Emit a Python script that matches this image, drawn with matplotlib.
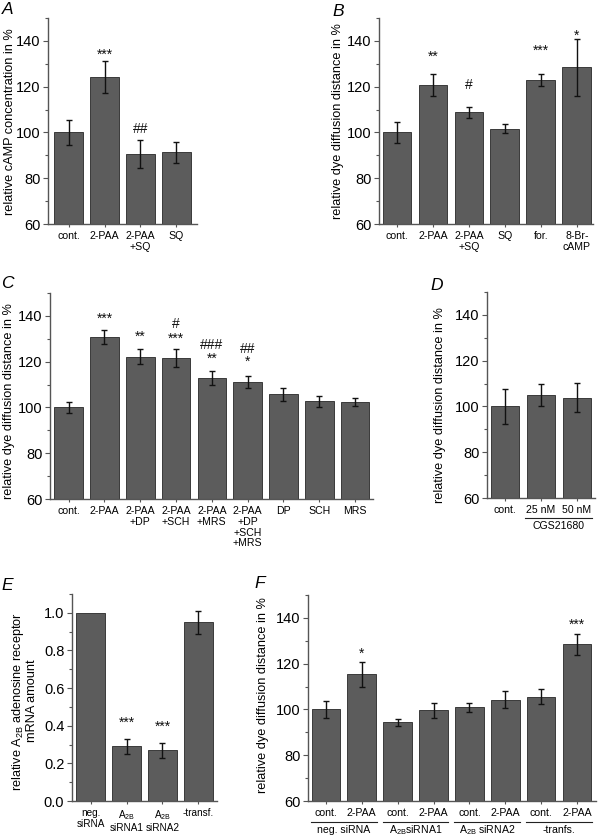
import matplotlib
matplotlib.use('Agg')
import matplotlib.pyplot as plt
import matplotlib.transforms as mtrans
from matplotlib.ticker import MultipleLocator, FormatStrFormatter

plt.rcParams['font.family'] = ['Liberation Sans', 'DejaVu Sans']
plt.rcParams['mathtext.fontset'] = 'custom'
plt.rcParams['mathtext.rm'] = 'Liberation Sans'
plt.rcParams['mathtext.it'] = 'Liberation Sans:italic'

## DATA ##
# A - cAMP
a_labels = ['cont.', '2-PAA', '2-PAA\n+SQ', 'SQ']
a_vals = [100, 124.2, 90.6, 91.3]
a_err = [5.6, 6.8, 6.0, 4.5]
a_ann_bar = [1, 2]
a_ann_txt = ['***', '##']
a_ann_y = [135.6, 101.7]

# B - dye diffusion, cAMP pathway
b_labels = ['cont.', '2-PAA', '2-PAA\n+SQ', 'SQ', 'for.', '8-Br-\ncAMP']
b_vals = [100, 120.8, 108.8, 101.7, 123.1, 128.4]
b_err = [4.5, 4.8, 2.3, 2.1, 2.6, 12.6]
b_ann_bar = [1, 2, 4, 5]
b_ann_txt = ['**', '#', '***', '*']
b_ann_y = [134.7, 121.3, 137.2, 144.0]

# C - adenosine receptor antagonists
c_labels = ['cont.', '2-PAA', '2-PAA\n+DP', '2-PAA\n+SCH', '2-PAA\n+MRS',
            '2-PAA\n+DP\n+SCH\n+MRS', 'DP', 'SCH', 'MRS']
c_vals = [100, 130.8, 122.1, 121.6, 113.0, 111.2, 105.7, 102.6, 102.5]
c_err = [2.3, 3.0, 3.3, 3.8, 3.0, 2.7, 2.8, 2.3, 1.7]
c_ann_bar = [1, 2, 3, 3, 4, 4, 5, 5]
c_ann_txt = ['***', '**', '#', '***', '###', '**', '##', '*']
c_ann_y = [140.6, 132.6, 136.9, 131.8, 127.6, 123.1, 126.0, 121.7]

# D - CGS21680
d_labels = ['cont.', '25 nM', '50 nM']
d_vals = [100, 105.0, 103.9]
d_err = [7.5, 5.0, 6.3]

# E - mRNA
e_labels = ['neg.\nsiRNA', 'A$_{\\mathrm{2B}}$\nsiRNA1', 'A$_{\\mathrm{2B}}$\nsiRNA2', '-transf.']
e_vals = [1.0, 0.29, 0.27, 0.95]
e_err = [0.0, 0.04, 0.04, 0.06]
e_ann_bar = [1, 2]
e_ann_txt = ['***', '***']
e_ann_y = [0.434, 0.415]

# F - siRNA dye diffusion
f_labels = ['cont.', '2-PAA'] * 4
f_groups = ['neg. siRNA', 'A$_{\\mathrm{2B}}$siRNA1', 'A$_{\\mathrm{2B}}$ siRNA2', '-tranfs.']
f_vals = [100, 115.4, 94.4, 99.7, 100.9, 104.3, 105.6, 128.4]
f_err = [3.9, 5.5, 1.6, 3.3, 1.9, 3.6, 3.4, 4.4]
f_ann_bar = [1, 7]
f_ann_txt = ['*', '***']
f_ann_y = [125.9, 138.7]

W, H = 598, 838
fig = plt.figure(figsize=(W / 100, H / 100), dpi=100)

BAR = '#5c5c5c'
EDGE = '#3a3a3a'
AX = '#555555'
XFS = 7.6


def rect(l, t, r, b):
    return [l / W, 1 - b / H, (r - l) / W, (b - t) / H]


def panel(r, labels, vals, err, xlim, ylim=(60, 150), major=20, minor=10, fmt='%d'):
    ax = fig.add_axes(rect(*r))
    x = list(range(len(vals)))
    ax.bar(x, vals, width=0.8, color=BAR, edgecolor=EDGE, linewidth=0.7, zorder=2)
    # only bars that have an error
    xe = [i for i in x if err[i] > 0]
    ax.errorbar(xe, [vals[i] for i in xe], yerr=[err[i] for i in xe], fmt='none',
                ecolor='#111111', elinewidth=1, capsize=2, capthick=1, zorder=3)
    ax.set_xlim(*xlim)
    ax.set_ylim(*ylim)
    ax.set_xticks(x)
    ax.set_xticklabels(labels, fontsize=XFS, linespacing=1.1)
    ax.yaxis.set_major_locator(MultipleLocator(major))
    ax.yaxis.set_minor_locator(MultipleLocator(minor))
    ax.yaxis.set_major_formatter(FormatStrFormatter(fmt))
    ax.tick_params(axis='y', labelsize=10.5, length=3.5, width=0.8, color=AX, pad=2)
    ax.tick_params(axis='y', which='minor', length=2, width=0.8, color=AX)
    ax.tick_params(axis='x', length=2.5, width=0.8, color=AX, pad=2.5)
    for s in ['top', 'right']:
        ax.spines[s].set_visible(False)
    for s in ['left', 'bottom']:
        ax.spines[s].set_color(AX)
        ax.spines[s].set_linewidth(1)
    return ax


def annotate(ax, bars, txts, ys):
    fs = 10
    for b, t, y in zip(bars, txts, ys):
        k = 0.57 if '*' in t else 0.35
        ax.annotate(t, xy=(b, y), xytext=(0, -k * fs), textcoords='offset points',
                    ha='center', va='baseline', fontsize=fs, color='#111111')


axA = panel((48, 18, 197, 224), a_labels, a_vals, a_err, (-0.57, 3.57))
annotate(axA, a_ann_bar, a_ann_txt, a_ann_y)

axB = panel((379, 18, 593, 224), b_labels, b_vals, b_err, (-0.5, 5.45))
annotate(axB, b_ann_bar, b_ann_txt, b_ann_y)

axC = panel((50, 293, 373, 499), c_labels, c_vals, c_err, (-0.52, 8.5))
annotate(axC, c_ann_bar, c_ann_txt, c_ann_y)

axD = panel((487, 292, 595, 498), d_labels, d_vals, d_err, (-0.5, 2.5))
trD = mtrans.blended_transform_factory(axD.transData, axD.transAxes)
axD.plot([0.56, 2.41], [-0.097, -0.097], color='#222222', lw=0.8,
         transform=trD, clip_on=False)
axD.text(1.48, -0.134, 'CGS21680', transform=trD, ha='center', va='center', fontsize=XFS)

axE = panel((72, 594, 217, 801), e_labels, e_vals, e_err, (-0.52, 3.52),
            ylim=(0, 1.1), major=0.2, minor=0.1, fmt='%.1f')
annotate(axE, e_ann_bar, e_ann_txt, e_ann_y)
for lab in axE.get_xticklabels():
    lab.set_fontsize(7.2)

axF = panel((308, 595, 596, 801), f_labels, f_vals, f_err, (-0.5, 7.53))
annotate(axF, f_ann_bar, f_ann_txt, f_ann_y)
trF = mtrans.blended_transform_factory(axF.transData, axF.transAxes)
for g, name in enumerate(f_groups):
    axF.plot([2 * g - 0.42, 2 * g + 1.41], [-0.1, -0.1], color='#222222', lw=0.8,
             transform=trF, clip_on=False)
    axF.text(2 * g + 0.5, -0.141, name, transform=trF, ha='center', va='center', fontsize=XFS)

# y labels
ylab = 'relative dye diffusion distance in %'
for (x, y), t in zip([(10, 122), (337.5, 121), (9, 401), (440, 405), (24, 701), (263, 695)],
                     ['relative cAMP concentration in %', ylab, ylab, ylab,
                      'relative A$_{\\mathrm{2B}}$ adenosine receptor\nmRNA amount', ylab]):
    fig.text(x / W, 1 - y / H, t, rotation=90, ha='center', va='center', fontsize=9.2,
             linespacing=1.1)

# panel letters
for (x, y), t in zip([(7.5, 10), (338, 11), (7, 284), (437, 286), (7, 585), (260, 583)],
                     ['A', 'B', 'C', 'D', 'E', 'F']):
    fig.text(x / W, 1 - y / H, t, style='italic', ha='center', va='center', fontsize=12.5)

fig.savefig('out.png', dpi=100)
